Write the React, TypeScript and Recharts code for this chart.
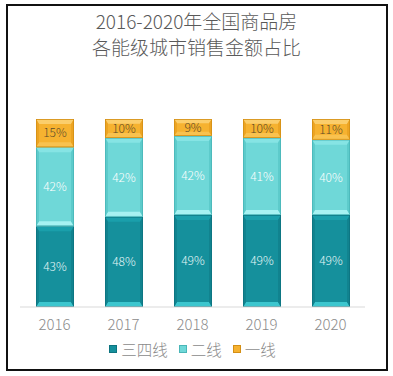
import React from 'react';
import { BarChart, Bar, XAxis, YAxis, LabelList, Legend } from 'recharts';

const years = ['2016', '2017', '2018', '2019', '2020'];
const tier34 = [43, 48, 49, 49, 49];
const tier2 = [42, 42, 42, 41, 40];
const tier1 = [15, 10, 9, 10, 11];
const seriesNames = ['三四线', '二线', '一线'];
const titleLines = ['2016-2020年全国商品房', '各能级城市销售金额占比'];

const data = years.map((y, i) => ({ year: y, t34: tier34[i], t2: tier2[i], t1: tier1[i] }));

type Pal = { base: string; top: string; bottom: string; side: string; edge: string; label: string };
const palettes: Record<string, Pal> = {
  t34: { base: '#15909c', top: '#1a9fab', bottom: '#3cc6ce', side: '#11838f', edge: '#0d7480', label: '#e6f7f8' },
  t2: { base: '#6fd8d8', top: '#86e4e4', bottom: '#a6f2f2', side: '#5dcbcb', edge: '#4ab6b8', label: '#ffffff' },
  t1: { base: '#f6b230', top: '#fbce6c', bottom: '#f9c24f', side: '#eca423', edge: '#d48f15', label: '#5a4a2a' },
};

const FONT = '"Noto Sans CJK SC", "Noto Sans", sans-serif';

const makeShape = (p: Pal) => (props: any) => {
  const { x, y, width: w, height: h } = props;
  if (!h || h <= 0) return null;
  const bx = 3;
  const by = Math.min(5, h / 4);
  return (
    <g>
      <rect x={x} y={y} width={w} height={h} fill={p.base} />
      <polygon points={`${x},${y} ${x + w},${y} ${x + w - bx},${y + by} ${x + bx},${y + by}`} fill={p.top} />
      <polygon points={`${x},${y + h} ${x + w},${y + h} ${x + w - bx},${y + h - by} ${x + bx},${y + h - by}`} fill={p.bottom} />
      <polygon points={`${x},${y} ${x + bx},${y + by} ${x + bx},${y + h - by} ${x},${y + h}`} fill={p.side} />
      <polygon points={`${x + w},${y} ${x + w - bx},${y + by} ${x + w - bx},${y + h - by} ${x + w},${y + h}`} fill={p.side} />
      <rect x={x + 0.4} y={y + 0.4} width={w - 0.8} height={h - 0.8} fill="none" stroke={p.edge} strokeWidth={0.8} />
    </g>
  );
};

const keys = ['t34', 't2', 't1'];

const LegendContent = () => (
  <div style={{ height: 20, display: 'flex', justifyContent: 'center', alignItems: 'center', fontFamily: FONT }}>
    {keys.map((k, i) => (
      <div key={k} style={{ display: 'flex', alignItems: 'center', marginRight: i < 2 ? 11 : 0 }}>
        <span
          style={{
            display: 'inline-block',
            width: 6,
            height: 6,
            background: palettes[k].base,
            border: `1px solid ${palettes[k].edge}`,
            marginRight: 4,
          }}
        />
        <span style={{ fontSize: 15.5, fontWeight: 300, color: '#8a8a8a', lineHeight: '20px' }}>{seriesNames[i]}</span>
      </div>
    ))}
  </div>
);

export default function App() {
  return (
    <div style={{ position: 'absolute', left: 0, top: 0, width: 393, height: 376, background: '#fff' }}>
      <div
        style={{
          position: 'absolute',
          left: 6,
          top: 4,
          width: 378,
          height: 363,
          border: '2px solid #111',
        }}
      />
      <div
        style={{
          position: 'absolute',
          left: 0,
          top: 8,
          width: 393,
          textAlign: 'center',
          fontFamily: FONT,
          fontSize: 19,
          fontWeight: 300,
          lineHeight: '26px',
          color: '#595959',
        }}
      >
        {titleLines.map((t) => (
          <div key={t}>{t}</div>
        ))}
      </div>
      <div style={{ position: 'absolute', left: 0, top: 0 }}>
        <BarChart width={393} height={376} data={data} margin={{ top: 119, right: 28, left: 20, bottom: 17 }}>
          <XAxis
            dataKey="year"
            height={32}
            tickLine={false}
            axisLine={{ stroke: '#d9d9d9' }}
            tick={{ fontSize: 15, fill: '#8c8c8c', fontFamily: FONT, fontWeight: 300 }}
            tickMargin={6}
          />
          <YAxis hide domain={[0, 100]} />
          <Legend verticalAlign="bottom" content={<LegendContent />} />
          {keys.map((k, i) => (
            <Bar
              key={k}
              dataKey={k}
              name={seriesNames[i]}
              stackId="a"
              barSize={38}
              fill={palettes[k].base}
              shape={makeShape(palettes[k])}
              isAnimationActive={false}
            >
              <LabelList
                dataKey={k}
                position="center"
                formatter={(v: any) => `${v}%`}
                style={{ fontSize: 12, fill: palettes[k].label, fontFamily: FONT, fontWeight: 300 }}
              />
            </Bar>
          ))}
        </BarChart>
      </div>
    </div>
  );
}
